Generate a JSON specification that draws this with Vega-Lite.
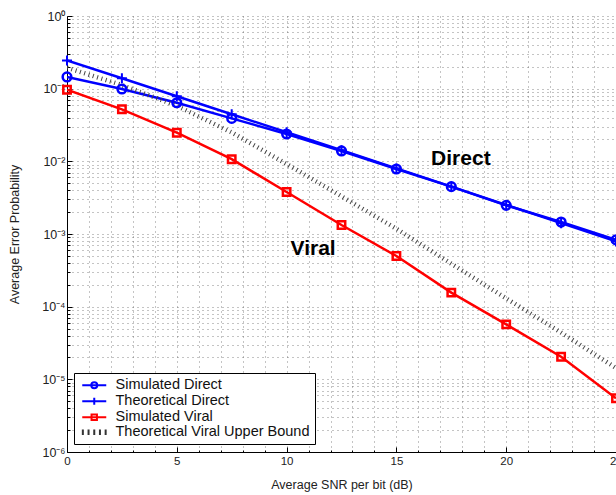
{
  "$schema": "https://vega.github.io/schema/vega-lite/v6.json",
  "usermeta": {"embedOptions": {"actions": false}},
  "autosize": {"type": "none"},
  "width": 549,
  "height": 436,
  "padding": {"left": 67, "top": 16, "right": 0, "bottom": 43},
  "background": "white",
  "config": {
    "font": "Liberation Sans",
    "view": {"stroke": null},
    "axis": {
      "domainColor": "#000000",
      "domainWidth": 1,
      "tickColor": "#000000",
      "labelColor": "#222222",
      "titleColor": "#222222",
      "labelFont": "Liberation Sans",
      "titleFont": "Liberation Sans",
      "titleFontWeight": "normal",
      "gridColor": "#555555",
      "gridDash": [1, 4],
      "gridWidth": 1,
      "gridOpacity": 0.7
    },
    "legend": {
      "orient": "none",
      "legendX": 7,
      "legendY": 357,
      "strokeColor": "#000000",
      "fillColor": "#ffffff",
      "padding": 5,
      "labelFont": "Liberation Sans",
      "labelFontSize": 14.5,
      "labelColor": "#111111",
      "labelLimit": 400,
      "symbolSize": 144,
      "symbolStrokeWidth": 2,
      "symbolOffset": 8,
      "labelOffset": 14,
      "rowPadding": 0
    }
  },
  "datasets": {
    "curves": [
      {"series": "Simulated Direct", "snr": 0, "p": 0.145},
      {"series": "Simulated Direct", "snr": 2.5, "p": 0.099},
      {"series": "Simulated Direct", "snr": 5, "p": 0.064},
      {"series": "Simulated Direct", "snr": 7.5, "p": 0.039},
      {"series": "Simulated Direct", "snr": 10, "p": 0.0238},
      {"series": "Simulated Direct", "snr": 12.5, "p": 0.0139},
      {"series": "Simulated Direct", "snr": 15, "p": 0.00785},
      {"series": "Simulated Direct", "snr": 17.5, "p": 0.00448},
      {"series": "Simulated Direct", "snr": 20, "p": 0.00248},
      {"series": "Simulated Direct", "snr": 22.5, "p": 0.00146},
      {"series": "Simulated Direct", "snr": 25, "p": 0.00083},
      {"series": "Theoretical Direct", "snr": 0, "p": 0.245},
      {"series": "Theoretical Direct", "snr": 2.5, "p": 0.139},
      {"series": "Theoretical Direct", "snr": 5, "p": 0.0785},
      {"series": "Theoretical Direct", "snr": 7.5, "p": 0.0444},
      {"series": "Theoretical Direct", "snr": 10, "p": 0.0252},
      {"series": "Theoretical Direct", "snr": 12.5, "p": 0.0142},
      {"series": "Theoretical Direct", "snr": 15, "p": 0.0080},
      {"series": "Theoretical Direct", "snr": 17.5, "p": 0.00448},
      {"series": "Theoretical Direct", "snr": 20, "p": 0.00251},
      {"series": "Theoretical Direct", "snr": 22.5, "p": 0.00141},
      {"series": "Theoretical Direct", "snr": 25, "p": 0.00079},
      {"series": "Simulated Viral", "snr": 0, "p": 0.0968},
      {"series": "Simulated Viral", "snr": 2.5, "p": 0.052},
      {"series": "Simulated Viral", "snr": 5, "p": 0.0248},
      {"series": "Simulated Viral", "snr": 7.5, "p": 0.0107},
      {"series": "Simulated Viral", "snr": 10, "p": 0.00379},
      {"series": "Simulated Viral", "snr": 12.5, "p": 0.00133},
      {"series": "Simulated Viral", "snr": 15, "p": 0.000498},
      {"series": "Simulated Viral", "snr": 17.5, "p": 0.000156},
      {"series": "Simulated Viral", "snr": 20, "p": 0.000057},
      {"series": "Simulated Viral", "snr": 22.5, "p": 0.0000205},
      {"series": "Simulated Viral", "snr": 25, "p": 0.0000055},
      {"series": "Theoretical Viral Upper Bound", "snr": 0, "p": 0.194},
      {"series": "Theoretical Viral Upper Bound", "snr": 2.5, "p": 0.112},
      {"series": "Theoretical Viral Upper Bound", "snr": 5, "p": 0.058},
      {"series": "Theoretical Viral Upper Bound", "snr": 7.5, "p": 0.025},
      {"series": "Theoretical Viral Upper Bound", "snr": 10, "p": 0.0092},
      {"series": "Theoretical Viral Upper Bound", "snr": 12.5, "p": 0.0033},
      {"series": "Theoretical Viral Upper Bound", "snr": 15, "p": 0.00118},
      {"series": "Theoretical Viral Upper Bound", "snr": 17.5, "p": 0.00039},
      {"series": "Theoretical Viral Upper Bound", "snr": 20, "p": 0.00013},
      {"series": "Theoretical Viral Upper Bound", "snr": 22.5, "p": 0.000044},
      {"series": "Theoretical Viral Upper Bound", "snr": 25, "p": 0.0000143}
    ],
    "labels": [
      {"text": "Direct", "snr": 16.58, "p": 0.00891},
      {"text": "Viral", "snr": 10.18, "p": 0.000514}
    ]
  },
  "data": {"name": "curves"},
  "encoding": {
    "x": {
      "field": "snr", "type": "quantitative",
      "scale": {"domain": [0, 25], "nice": false, "zero": false},
      "axis": {
        "title": "Average SNR per bit (dB)",
        "titleFontSize": 12.5,
        "titlePadding": 12,
        "values": [0,1,2,3,4,5,6,7,8,9,10,11,12,13,14,15,16,17,18,19,20,21,22,23,24,25],
        "labelExpr": "datum.value % 5 == 0 ? datum.label : ''",
        "labelFontSize": 11.5,
        "labelPadding": 8,
        "labelFlush": false,
        "tickSize": {"condition": {"test": "datum.value % 5 == 0", "value": -5}, "value": -2},
        "grid": true
      }
    },
    "y": {
      "field": "p", "type": "quantitative",
      "scale": {"type": "log", "domain": [0.000001, 1], "nice": false},
      "axis": {
        "title": "Average Error Probability",
        "titleFontSize": 12.5,
        "titlePadding": 20,
        "values": [0.000001,0.000002,0.000003,0.000004,0.000005,0.000006,0.000007,0.000008,0.000009,
                   0.00001,0.00002,0.00003,0.00004,0.00005,0.00006,0.00007,0.00008,0.00009,
                   0.0001,0.0002,0.0003,0.0004,0.0005,0.0006,0.0007,0.0008,0.0009,
                   0.001,0.002,0.003,0.004,0.005,0.006,0.007,0.008,0.009,
                   0.01,0.02,0.03,0.04,0.05,0.06,0.07,0.08,0.09,
                   0.1,0.2,0.3,0.4,0.5,0.6,0.7,0.8,0.9,1],
        "labelExpr": "datum.value == 1 ? '10⁰' : abs(datum.value - 0.1) < 1e-9 ? '10⁻¹' : abs(datum.value - 0.01) < 1e-10 ? '10⁻²' : abs(datum.value - 0.001) < 1e-11 ? '10⁻³' : abs(datum.value - 0.0001) < 1e-12 ? '10⁻⁴' : abs(datum.value - 0.00001) < 1e-13 ? '10⁻⁵' : abs(datum.value - 0.000001) < 1e-14 ? '10⁻⁶' : ''",
        "labelFontSize": 12.5,
        "labelPadding": 7,
        "labelFlush": false,
        "labelOverlap": false,
        "tickSize": {"condition": {"test": "abs(log(datum.value)/LN10 - round(log(datum.value)/LN10)) < 1e-6", "value": -5}, "value": -3},
        "grid": true
      }
    }
  },
  "layer": [
    {
      "transform": [{"filter": "datum.series == 'Simulated Direct' || datum.series == 'Theoretical Direct'"}],
      "mark": {"type": "line", "strokeWidth": 2.5, "color": "#0000ff", "clip": true},
      "encoding": {"detail": {"field": "series"}}
    },
    {
      "transform": [{"filter": "datum.series == 'Simulated Viral'"}],
      "mark": {"type": "line", "strokeWidth": 2.5, "color": "#ff0000", "clip": true},
      "encoding": {}
    },
    {
      "transform": [{"filter": "datum.series == 'Theoretical Viral Upper Bound'"}],
      "mark": {"type": "line", "color": "#444444", "strokeWidth": 4.5, "strokeDash": [1, 3.5], "strokeCap": "butt", "clip": true},
      "encoding": {}
    },
    {
      "transform": [{"filter": "datum.series == 'Simulated Direct'"}],
      "mark": {"type": "point", "shape": "circle", "size": 75, "filled": false, "color": "#0000ff", "strokeWidth": 2.5, "opacity": 1},
      "encoding": {}
    },
    {
      "transform": [{"filter": "datum.series == 'Theoretical Direct'"}],
      "mark": {"type": "point", "shape": "M-1,0H1M0,-1V1", "size": 100, "filled": false, "color": "#0000ff", "strokeWidth": 2, "opacity": 1},
      "encoding": {}
    },
    {
      "transform": [{"filter": "datum.series == 'Simulated Viral'"}],
      "mark": {"type": "point", "shape": "square", "size": 55, "filled": false, "color": "#ff0000", "strokeWidth": 2.5, "opacity": 1},
      "encoding": {}
    },
    {
      "transform": [{"filter": "datum.snr < -100"}],
      "mark": {"type": "point", "filled": false, "strokeWidth": 2, "opacity": 1},
      "encoding": {
        "color": {"field": "series", "type": "nominal", "title": null,
          "scale": {"domain": ["Simulated Direct", "Theoretical Direct", "Simulated Viral", "Theoretical Viral Upper Bound"],
                    "range": ["#0000ff", "#0000ff", "#ff0000", "#333333"]}},
        "shape": {"field": "series", "type": "nominal", "title": null,
          "scale": {"domain": ["Simulated Direct", "Theoretical Direct", "Simulated Viral", "Theoretical Viral Upper Bound"],
                    "range": [
                      "M-2,0H2M0.5,0A0.5,0.5 0 1,0 -0.5,0A0.5,0.5 0 1,0 0.5,0",
                      "M-2,0H2M0,-0.6V0.6",
                      "M-2,0H2M-0.45,-0.45H0.45V0.45H-0.45Z",
                      "M-1.9,-0.45V0.45M-0.95,-0.45V0.45M0,-0.45V0.45M0.95,-0.45V0.45M1.9,-0.45V0.45"
                    ]}
        },
        "x": {"field": "snr", "type": "quantitative"},
        "y": {"field": "p", "type": "quantitative"}
      }
    },
    {
      "data": {"name": "labels"},
      "mark": {"type": "text", "align": "left", "baseline": "alphabetic", "fontSize": 21, "fontWeight": "bold", "font": "Liberation Sans", "color": "#000000"},
      "encoding": {
        "text": {"field": "text"}
      }
    }
  ]
}
